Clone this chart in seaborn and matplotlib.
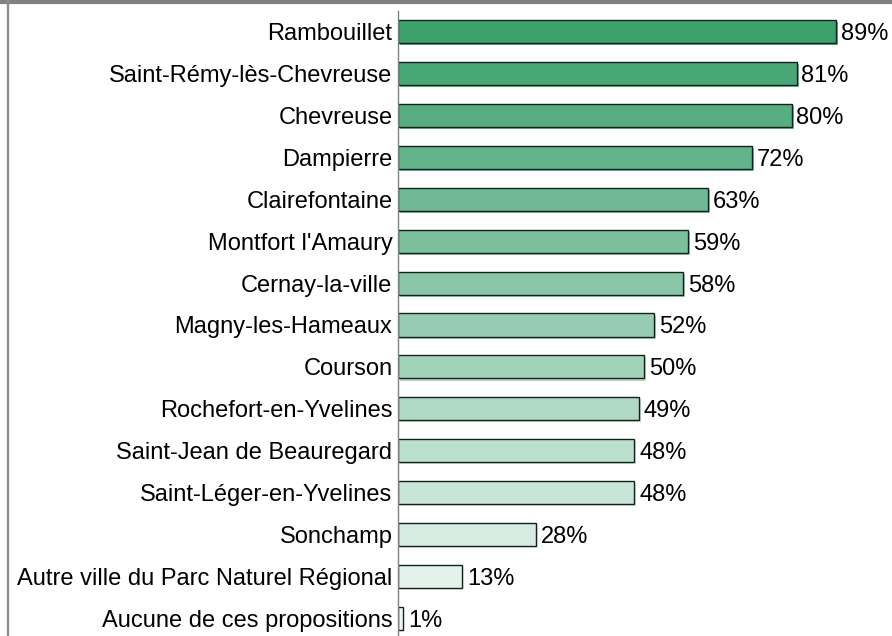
import matplotlib
matplotlib.use("Agg")
import matplotlib.pyplot as plt
import matplotlib.patheffects as pe
from matplotlib.lines import Line2D
import numpy as np
import pandas as pd
import seaborn as sns

categories = ["Rambouillet", "Saint-Rémy-lès-Chevreuse", "Chevreuse", "Dampierre",
              "Clairefontaine", "Montfort l'Amaury", "Cernay-la-ville", "Magny-les-Hameaux",
              "Courson", "Rochefort-en-Yvelines", "Saint-Jean de Beauregard",
              "Saint-Léger-en-Yvelines", "Sonchamp", "Autre ville du Parc Naturel Régional",
              "Aucune de ces propositions"]
values = [89, 81, 80, 72, 63, 59, 58, 52, 50, 49, 48, 48, 28, 13, 1]
value_labels = ["89%", "81%", "80%", "72%", "63%", "59%", "58%", "52%", "50%", "49%",
                "48%", "48%", "28%", "13%", "1%"]

sns.set_theme(style="white")
plt.rcParams['font.family'] = ['Liberation Sans', 'DejaVu Sans']

df = pd.DataFrame({"cat": categories, "val": values})

start = np.array([0x3c, 0xa0, 0x6d]) / 255.0
end = np.array([0xf0, 0xf8, 0xf4]) / 255.0
n = len(categories)
palette = [tuple(start + (end - start) * i / (n - 1)) for i in range(n)]

fig = plt.figure(figsize=(8.92, 6.36), dpi=100)
H = 636.0
W = 892.0
row = 41.93
ax_h = row * n / H
top = 1 - 10.5 / H
ax = fig.add_axes([398 / W, top - ax_h, (890 - 398) / W, ax_h])

sns.barplot(data=df, y="cat", x="val", hue="cat", palette=palette, legend=False,
            orient="h", width=0.55, edgecolor="#15221b", linewidth=1.0, ax=ax,
            saturation=1)

for patch, c in zip(ax.patches, palette):
    patch.set_path_effects([pe.SimplePatchShadow(offset=(1.5, -1.5), shadow_rgbFace=c, alpha=0.8),
                            pe.Normal()])

ax.set_xlim(0, 100)
ax.set_ylim(n - 0.5, -0.5)
ax.set_xlabel("")
ax.set_ylabel("")
ax.set_xticks([])
ax.tick_params(axis="y", length=0, pad=4, labelsize=17, labelcolor="#000000")
for s in ["top", "right", "bottom"]:
    ax.spines[s].set_visible(False)
ax.spines["left"].set_color("#808080")
ax.spines["left"].set_linewidth(1.0)

for i, (v, lab) in enumerate(zip(values, value_labels)):
    ax.annotate(lab, xy=(v, i), xytext=(3.5, 0), textcoords="offset points",
                va="center_baseline", ha="left", fontsize=17, color="#000000")

# outer gray frame (top and left)
fig.add_artist(Line2D([0, 1], [1 - 1.5 / H, 1 - 1.5 / H], transform=fig.transFigure,
                      color="#808080", linewidth=3.0))
fig.add_artist(Line2D([8 / W, 8 / W], [0, 1], transform=fig.transFigure,
                      color="#8a8a8a", linewidth=1.6))

fig.savefig("out.png", dpi=100)
